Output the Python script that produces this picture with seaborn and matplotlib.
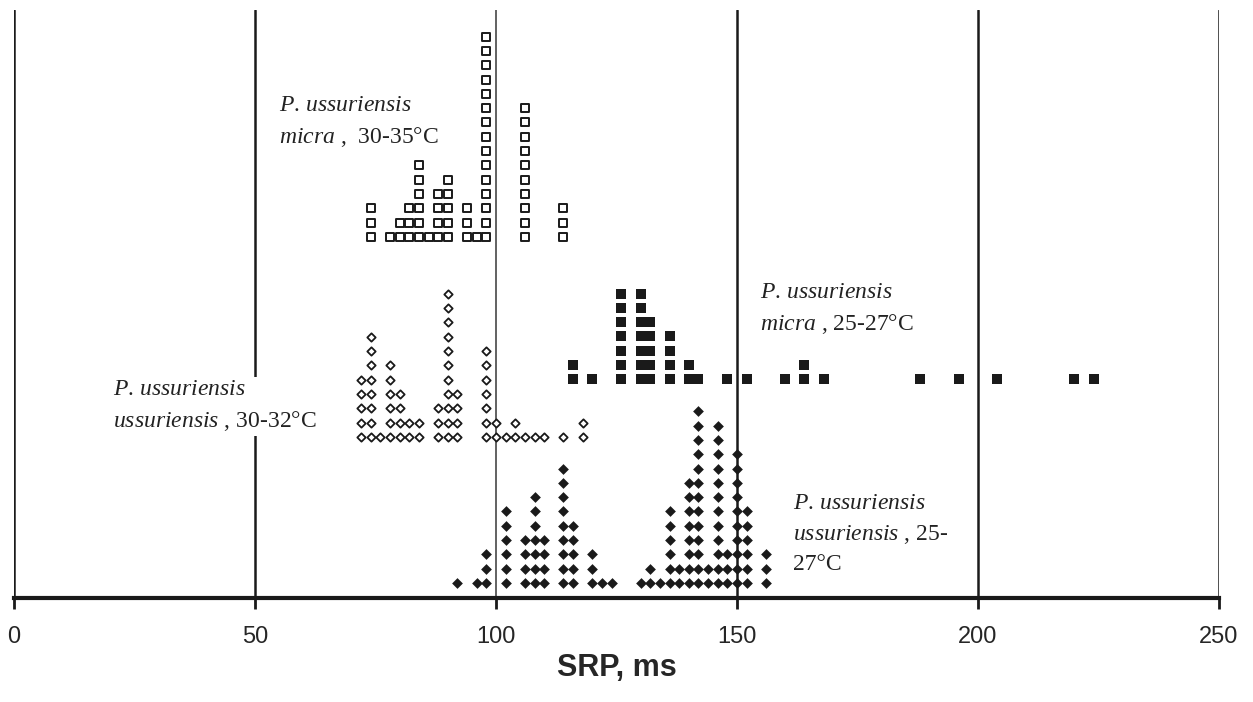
import numpy as np
import pandas as pd
import seaborn as sns
import matplotlib.pyplot as plt

# SRP values (ms) and number of individuals at each value, per group
micra_30_srp = [74, 78, 80, 82, 84, 86, 88, 90, 94, 96, 98, 106, 114]
micra_30_n = [3, 1, 2, 3, 6, 1, 4, 5, 3, 1, 15, 10, 3]

micra_25_srp = [116, 120, 126, 130, 132, 136, 140, 142, 148, 152, 160, 164,
                168, 188, 196, 204, 220, 224]
micra_25_n = [2, 1, 7, 7, 5, 4, 2, 1, 1, 1, 1, 2, 1, 1, 1, 1, 1, 1]

uss_30_srp = [72, 74, 76, 78, 80, 82, 84, 88, 90, 92, 98, 100, 102, 104,
              106, 108, 110, 114, 118]
uss_30_n = [5, 8, 1, 6, 4, 2, 2, 3, 11, 4, 7, 2, 1, 2, 1, 1, 1, 1, 2]

uss_25_srp = [92, 96, 98, 102, 106, 108, 110, 114, 116, 120, 122, 124,
              130, 132, 134, 136, 138, 140, 142, 144, 146, 148, 150, 152, 156]
uss_25_n = [1, 1, 3, 6, 4, 7, 4, 9, 5, 3, 1, 1,
            1, 2, 1, 6, 2, 8, 13, 2, 12, 3, 10, 6, 3]

x_ticks = [0, 50, 100, 150, 200, 250]


def stack(srp, counts, base, group):
    rows = []
    for v, c in zip(srp, counts):
        for k in range(c):
            rows.append({'srp': v, 'level': base + k, 'group': group})
    return rows


# vertical offset of each group's bottom row
data = pd.DataFrame(
    stack(micra_30_srp, micra_30_n, 25.24, 'micra_30')
    + stack(micra_25_srp, micra_25_n, 15.28, 'micra_25')
    + stack(uss_30_srp, uss_30_n, 11.26, 'uss_30')
    + stack(uss_25_srp, uss_25_n, 1.05, 'uss_25'))

sns.set_style('white')
plt.rcParams['mathtext.fontset'] = 'custom'
plt.rcParams['mathtext.it'] = 'Liberation Serif:italic'
plt.rcParams['mathtext.rm'] = 'Liberation Serif'

fig = plt.figure(figsize=(12.53, 7.02), dpi=100)
ax = fig.add_axes([14 / 1253, 104 / 702, 1205 / 1253, 588 / 702])

ink = '#1a1a1a'
styles = {
    'micra_30': dict(marker='s', s=36, facecolor='white', edgecolor=ink, linewidth=1.4),
    'micra_25': dict(marker='s', s=52, facecolor=ink, edgecolor=ink, linewidth=0),
    'uss_30': dict(marker='D', s=18, facecolor='white', edgecolor=ink, linewidth=1.3),
    'uss_25': dict(marker='D', s=30, facecolor=ink, edgecolor=ink, linewidth=0),
}

# grid lines behind the points
for xv in x_ticks:
    if xv == 100:
        ax.axvline(xv, color='#555555', linewidth=1.3, zorder=1)
    else:
        ax.axvline(xv, color=ink, linewidth=1.8, zorder=1)

for grp, st in styles.items():
    sub = data[data['group'] == grp]
    sns.scatterplot(data=sub, x='srp', y='level', ax=ax, zorder=3, legend=False, **st)

ax.set_xlim(0, 250)
ax.set_ylim(0, 41.1)
ax.set_xticks(x_ticks)
ax.set_yticks([])
ax.set_ylabel('')
ax.set_xlabel('SRP, ms', fontsize=22, fontweight='bold', family='Liberation Sans',
              labelpad=4)
for side in ['left', 'right', 'top']:
    ax.spines[side].set_visible(False)
ax.spines['bottom'].set_linewidth(3)
ax.spines['bottom'].set_color(ink)
ax.tick_params(axis='x', direction='out', length=8, width=2, color=ink,
               labelsize=17, pad=12, bottom=True)
for lab in ax.get_xticklabels():
    lab.set_family('Liberation Sans')

txt = dict(fontsize=17, family='Liberation Serif', color='#222222',
           linespacing=1.5, va='center', ha='left', zorder=4)
ax.text(55.0, 33.25, '$\\mathit{P.\\,ussuriensis}$\n$\\mathit{micra}$ ,  30-35°C', **txt)
ax.text(154.8, 20.2, '$\\mathit{P.\\,ussuriensis}$\n$\\mathit{micra}$ , 25-27°C', **txt)
ax.text(20.5, 13.4, '$\\mathit{P.\\,ussuriensis}$\n$\\mathit{ussuriensis}$ , 30-32°C',
        bbox=dict(facecolor='white', edgecolor='none', pad=2), **txt)
ax.text(161.6, 4.48, '$\\mathit{P.\\,ussuriensis}$\n$\\mathit{ussuriensis}$ , 25-\n27°C', **txt)

fig.savefig('out.png', dpi=100)
